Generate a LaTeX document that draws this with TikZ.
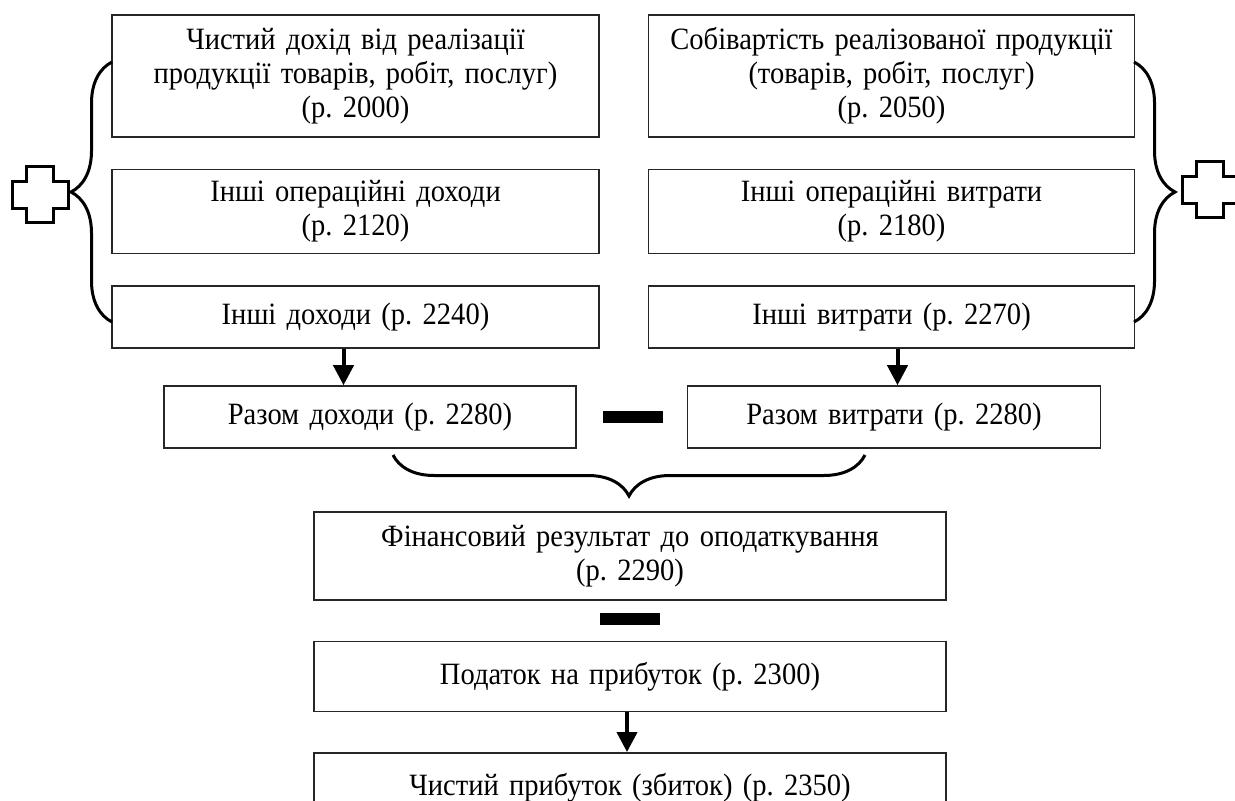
\documentclass[tikz,border=0pt]{standalone}
\usepackage{fontspec}
\setmainfont{Liberation Serif}[FakeStretch=0.92, WordSpace=0.8]
\usetikzlibrary{calc}
\usetikzlibrary{positioning}
\usetikzlibrary{arrows.meta}
\usetikzlibrary{decorations.pathreplacing}
\frenchspacing

\begin{document}
\begin{tikzpicture}[x=0.5pt, y=0.5pt,
    box/.style={rectangle, draw=black!85, line width=0.75pt, inner xsep=0pt, inner ysep=2pt, text centered, font=\fontsize{15.5}{17}\selectfont},
    minusbar/.style={rectangle, fill=black, minimum width=30pt, minimum height=6pt, inner sep=0pt},
    arr/.style={-{Triangle[length=10pt, width=10pt]}, line width=2pt},
    curly/.style={decorate, decoration={brace, amplitude=20.5pt}, line width=1.5pt},
    plussign/.style={line width=1.5pt, line join=miter}]
    \useasboundingbox (0,0) rectangle (1235,-801);

    \node [box, text width=243.5pt, minimum height=61pt] (doh1) at (355.5,-76) {Чистий дохід від реалізації\\ продукції товарів, робіт, послуг)\\ (р. 2000)};
    \node [box, text width=243.5pt, minimum height=42pt, below=15.5pt of doh1] (doh2) {Інші операційні доходи\\ (р. 2120)};
    \node [box, text width=243.5pt, minimum height=31pt, below=15.5pt of doh2] (doh3) {Інші доходи (р. 2240)};

    \node [box, text width=243pt, minimum height=61pt, right=24pt of doh1] (vyt1) {Собівартість реалізованої продукції\\ (товарів, робіт, послуг)\\ (р. 2050)};
    \node [box, text width=243pt, minimum height=42pt, below=15.5pt of vyt1] (vyt2) {Інші операційні витрати\\ (р. 2180)};
    \node [box, text width=243pt, minimum height=31pt, below=15.5pt of vyt2] (vyt3) {Інші витрати (р. 2270)};

    \node [box, text width=206pt, minimum height=31pt] (razdoh) at (370,-417) {Разом доходи (р. 2280)};
    \node [minusbar, right=13pt of razdoh] (minus1) {};
    \node [box, text width=206.5pt, minimum height=31pt, right=55pt of razdoh] (razvyt) {Разом витрати (р. 2280)};

    \node [box, text width=316pt, minimum height=44pt] (fin) at (630,-556) {Фінансовий результат до оподаткування\\ (р. 2290)};
    \node [minusbar, below=6pt of fin] (minus2) {};
    \node [box, text width=316pt, minimum height=35pt, below=7.5pt of minus2] (tax) {Податок на прибуток (р. 2300)};
    \node [box, text width=316pt, minimum height=35pt, below=20pt of tax] (net) {Чистий прибуток (збиток) (р. 2350)};

    \draw [arr] ([xshift=-6pt]doh3.south) -- ([xshift=-6pt]doh3.south |- razdoh.north);
    \draw [arr] ([xshift=3pt]vyt3.south) -- ([xshift=3pt]vyt3.south |- razvyt.north);
    \draw [arr] ([xshift=-1.5pt]tax.south) -- ([xshift=-1.5pt]net.north);

    % braces
    \draw [curly] (112,-322) -- (112,-62);
    \draw [curly] (1134,-62) -- (1134,-322);
    \draw [curly] (865,-455) -- (393,-455);

    % plus signs
    \draw [plussign] (40,-195) ++(-13.5,28) -- ++(27,0) -- ++(0,-14.5) -- ++(14.5,0) -- ++(0,-27) -- ++(-14.5,0) -- ++(0,-14.5) -- ++(-27,0) -- ++(0,14.5) -- ++(-14.5,0) -- ++(0,27) -- ++(14.5,0) -- cycle;
    \draw [plussign] (1210,-190) ++(-13.5,28) -- ++(27,0) -- ++(0,-14.5) -- ++(14.5,0) -- ++(0,-27) -- ++(-14.5,0) -- ++(0,-14.5) -- ++(-27,0) -- ++(0,14.5) -- ++(-14.5,0) -- ++(0,27) -- ++(14.5,0) -- cycle;
\end{tikzpicture}
\end{document}
